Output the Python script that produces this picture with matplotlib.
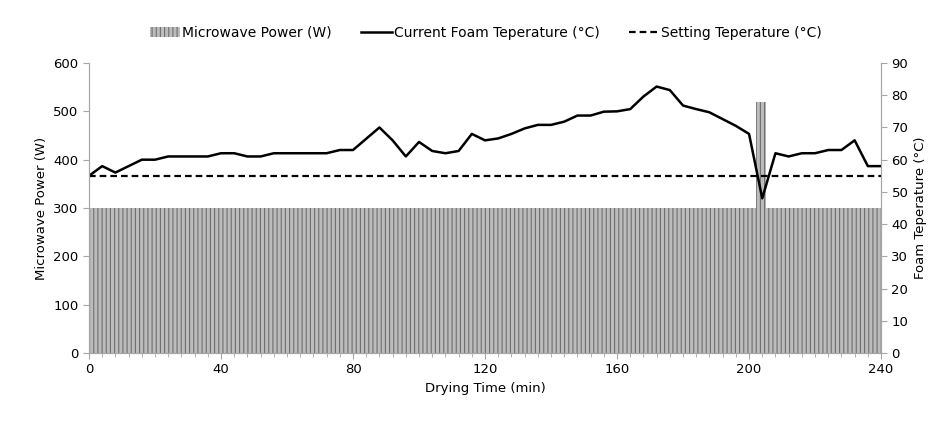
import numpy as np
import matplotlib
matplotlib.use('Agg')
import matplotlib.pyplot as plt
from matplotlib.patches import Patch
from matplotlib.lines import Line2D

# puissance micro-ondes (W), une barre par minute
power_time = list(range(0, 240))
power = [520 if t in (202, 203, 204) else 300 for t in power_time]

# température de la mousse (°C), mesurée toutes les 4 min
temp_time = list(range(0, 244, 4))
temp = [55, 58, 56, 58, 60, 60, 61, 61, 61, 61, 62, 62, 61, 61, 62, 62,
        62, 62, 62, 63, 63, 66.5, 70, 66, 61, 65.5, 62.7, 62, 62.7, 68,
        66, 66.6, 68, 69.7, 70.8, 70.8, 71.8, 73.7, 73.7, 74.9, 75, 75.7,
        79.6, 82.7, 81.6, 76.8, 75.7, 74.7, 72.6, 70.5, 68, 48, 62, 61,
        62, 62, 63, 63, 66, 58, 58]

setting_time = [0, 240]
setting_temp = [55, 55]

gris = '#a6a6a6'
plt.rcParams['hatch.linewidth'] = 0.8

fig = plt.figure(figsize=(9.53, 4.23), dpi=100)
ax = fig.add_axes([0.0934, 0.1655, 0.8311, 0.6855])

ax.bar(power_time, power, width=1.0, align='edge', color='#bcbcbc',
       edgecolor='#6e6e6e', hatch='||||', linewidth=0)
ax.set_xlim(0, 240)
ax.set_ylim(0, 600)
ax.set_xticks(range(0, 241, 40))
ax.set_xticks(range(0, 241, 4), minor=True)
ax.set_yticks(range(0, 601, 100))
ax.set_xlabel('Drying Time (min)', fontsize=9.5)
ax.set_ylabel('Microwave Power (W)', fontsize=9.5)

ax2 = ax.twinx()
ax2.plot(temp_time, temp, color='black', lw=1.8)
ax2.plot(setting_time, setting_temp, color='black', lw=1.6, ls=(0, (3, 1.8)))
ax2.set_ylim(0, 90)
ax2.set_yticks(range(0, 91, 10))
ax2.set_ylabel('Foam Teperature (°C)', fontsize=9.5)

for a in (ax, ax2):
    a.spines['top'].set_visible(False)
    for s in ('left', 'right', 'bottom'):
        a.spines[s].set_color(gris)
    a.tick_params(which='both', color=gris, labelsize=9.5, length=4)
    a.tick_params(which='minor', length=3)

handles = [Patch(facecolor='#bcbcbc', edgecolor='#6e6e6e', hatch='||||', linewidth=0),
           Line2D([], [], color='black', lw=1.8),
           Line2D([], [], color='black', lw=1.6, ls=(0, (3, 1.8)))]
labels = ['Microwave Power (W)', 'Current Foam Teperature (°C)', 'Setting Teperature (°C)']
fig.legend(handles, labels, loc='center', bbox_to_anchor=(0.51, 0.922), ncol=3,
           frameon=False, fontsize=10, handlelength=2.2, handletextpad=0.15,
           columnspacing=2.1)

fig.savefig('out.png', dpi=100)
